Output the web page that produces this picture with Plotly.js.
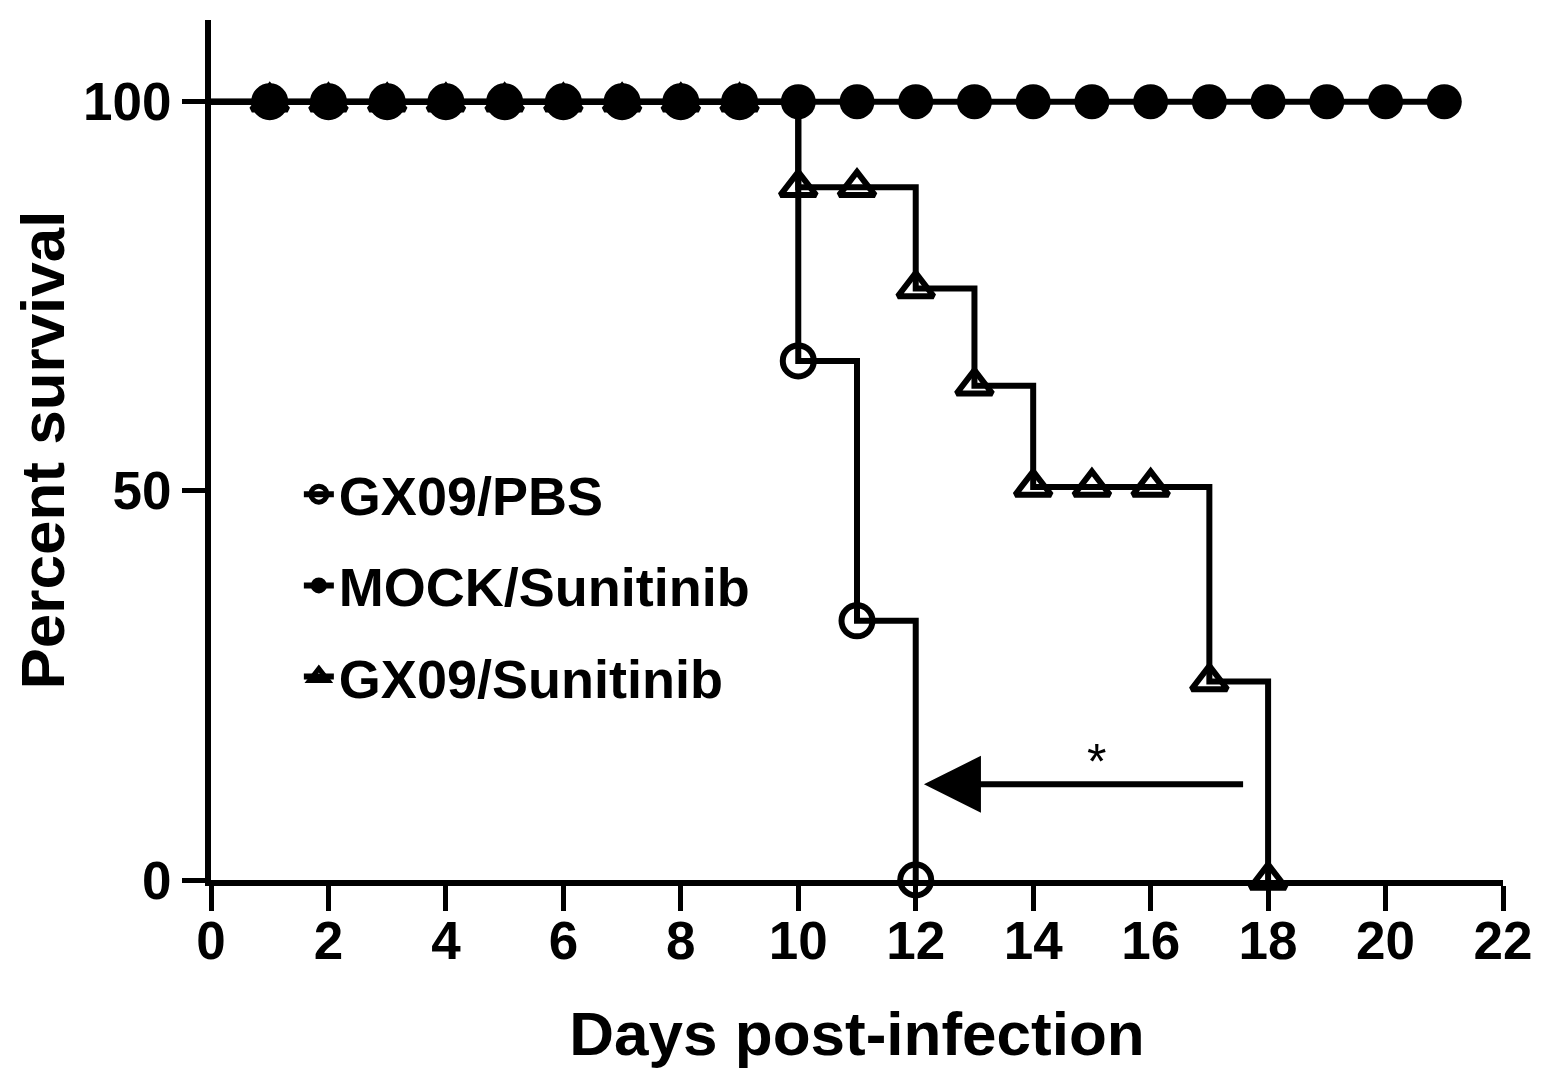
<!DOCTYPE html>
<html>
<head>
<meta charset="utf-8">
<script src="https://cdn.plot.ly/plotly-3.0.1.min.js"></script>
<style>html,body{margin:0;padding:0;background:#fff;}#chart{width:1560px;height:1086px;}</style>
</head>
<body>
<div id="chart"></div>
<script>
// ---- data ----
const seriesNames = ["GX09/PBS", "MOCK/Sunitinib", "GX09/Sunitinib"];

const pbsDays     = [0, 1, 2, 3, 4, 5, 6, 7, 8, 9, 10, 11, 12];
const pbsSurvival = [100, 100, 100, 100, 100, 100, 100, 100, 100, 100, 66.7, 33.3, 0];

const mockDays     = [0, 1, 2, 3, 4, 5, 6, 7, 8, 9, 10, 11, 12, 13, 14, 15, 16, 17, 18, 19, 20, 21];
const mockSurvival = [100, 100, 100, 100, 100, 100, 100, 100, 100, 100, 100, 100, 100, 100, 100, 100, 100, 100, 100, 100, 100, 100];

const sunDays     = [0, 1, 2, 3, 4, 5, 6, 7, 8, 9, 10, 11, 12, 13, 14, 15, 16, 17, 18];
const sunSurvival = [100, 100, 100, 100, 100, 100, 100, 100, 100, 100, 89, 89, 76, 63.5, 50.5, 50.5, 50.5, 25.5, 0];

const xTickVals = [0, 2, 4, 6, 8, 10, 12, 14, 16, 18, 20, 22];
const yTickVals = [0, 50, 100];

// significance arrow (median survival shift) and its label
const arrowFromDay = 17.6;
const arrowToDay   = 12.14;
const arrowLevel   = 12.3;
const starLabel    = "*";
const starDay      = 15.08;
const starLevel    = 15.2;

// ---- drawing ----
const FONT = "Liberation Sans, Arial, Helvetica, sans-serif";
const sizesFor = (days, s) => days.map(d => (d === 0 ? 0 : s)); // no symbol at time zero

const pbsTrace = {
  x: pbsDays, y: pbsSurvival, name: seriesNames[0], type: "scatter", mode: "lines+markers",
  line: {shape: "hv", color: "#000", width: 6},
  marker: {symbol: "circle-open", color: "#000", opacity: 1, size: sizesFor(pbsDays, 31), line: {width: 6, color: "#000"}},
  cliponaxis: false, legendrank: 1, legendgroup: "a"
};
const sunTrace = {
  x: sunDays, y: sunSurvival, name: seriesNames[2], type: "scatter", mode: "lines+markers",
  line: {shape: "hv", color: "#000", width: 6},
  marker: {symbol: "triangle-up-open", color: "#000", opacity: 1, size: sizesFor(sunDays, 31), line: {width: 6, color: "#000"}},
  cliponaxis: false, legendrank: 3, legendgroup: "c"
};
const mockTrace = {
  x: mockDays, y: mockSurvival, name: seriesNames[1], type: "scatter", mode: "lines+markers",
  line: {shape: "hv", color: "#000", width: 6},
  marker: {symbol: "circle", color: "#000", opacity: 1, size: sizesFor(mockDays, 35), line: {width: 0}},
  cliponaxis: false, legendrank: 2, legendgroup: "b"
};

const axisCommon = {
  showline: true, linecolor: "#000", linewidth: 6, mirror: false,
  showgrid: false, zeroline: false,
  ticks: "outside", tickcolor: "#000", tickwidth: 5,
  tickfont: {family: FONT, size: 53, color: "#000", weight: "bold"},
  fixedrange: true
};

const layout = {
  width: 1560, height: 1086,
  margin: {l: 211, r: 57, t: 20, b: 206, pad: 0},
  paper_bgcolor: "#fff", plot_bgcolor: "#fff",
  showlegend: true,
  legend: {
    x: 0.068, xanchor: "left", y: 0.497, yanchor: "top",
    font: {family: FONT, size: 54, color: "#000", weight: "bold"},
    bgcolor: "rgba(0,0,0,0)", borderwidth: 0,
    traceorder: "grouped", tracegroupgap: 18, itemsizing: "trace"
  },
  xaxis: Object.assign({}, axisCommon, {
    range: [0, 22], tickmode: "array", tickvals: xTickVals, ticklen: 25, ticklabelstandoff: -16,
    title: {text: "Days post-infection", font: {family: FONT, size: 62, color: "#000", weight: "bold"}, standoff: 45}
  }),
  yaxis: Object.assign({}, axisCommon, {
    range: [0, 110.5], tickmode: "array", tickvals: yTickVals, ticklen: 23,
    title: {text: "Percent survival", font: {family: FONT, size: 62, color: "#000", weight: "bold"}, standoff: 0}
  }),
  annotations: [
    {
      x: arrowToDay, y: arrowLevel, ax: arrowFromDay, ay: arrowLevel,
      xref: "x", yref: "y", axref: "x", ayref: "y",
      text: "", showarrow: true, arrowhead: 2, arrowsize: 1.9, arrowwidth: 6, arrowcolor: "#000", standoff: 0
    },
    {
      x: starDay, y: starLevel, xref: "x", yref: "y", text: starLabel, showarrow: false,
      font: {family: FONT, size: 50, color: "#000"}
    }
  ]
};

Plotly.newPlot("chart", [pbsTrace, sunTrace, mockTrace], layout, {displayModeBar: false, staticPlot: true});
</script>
</body>
</html>
